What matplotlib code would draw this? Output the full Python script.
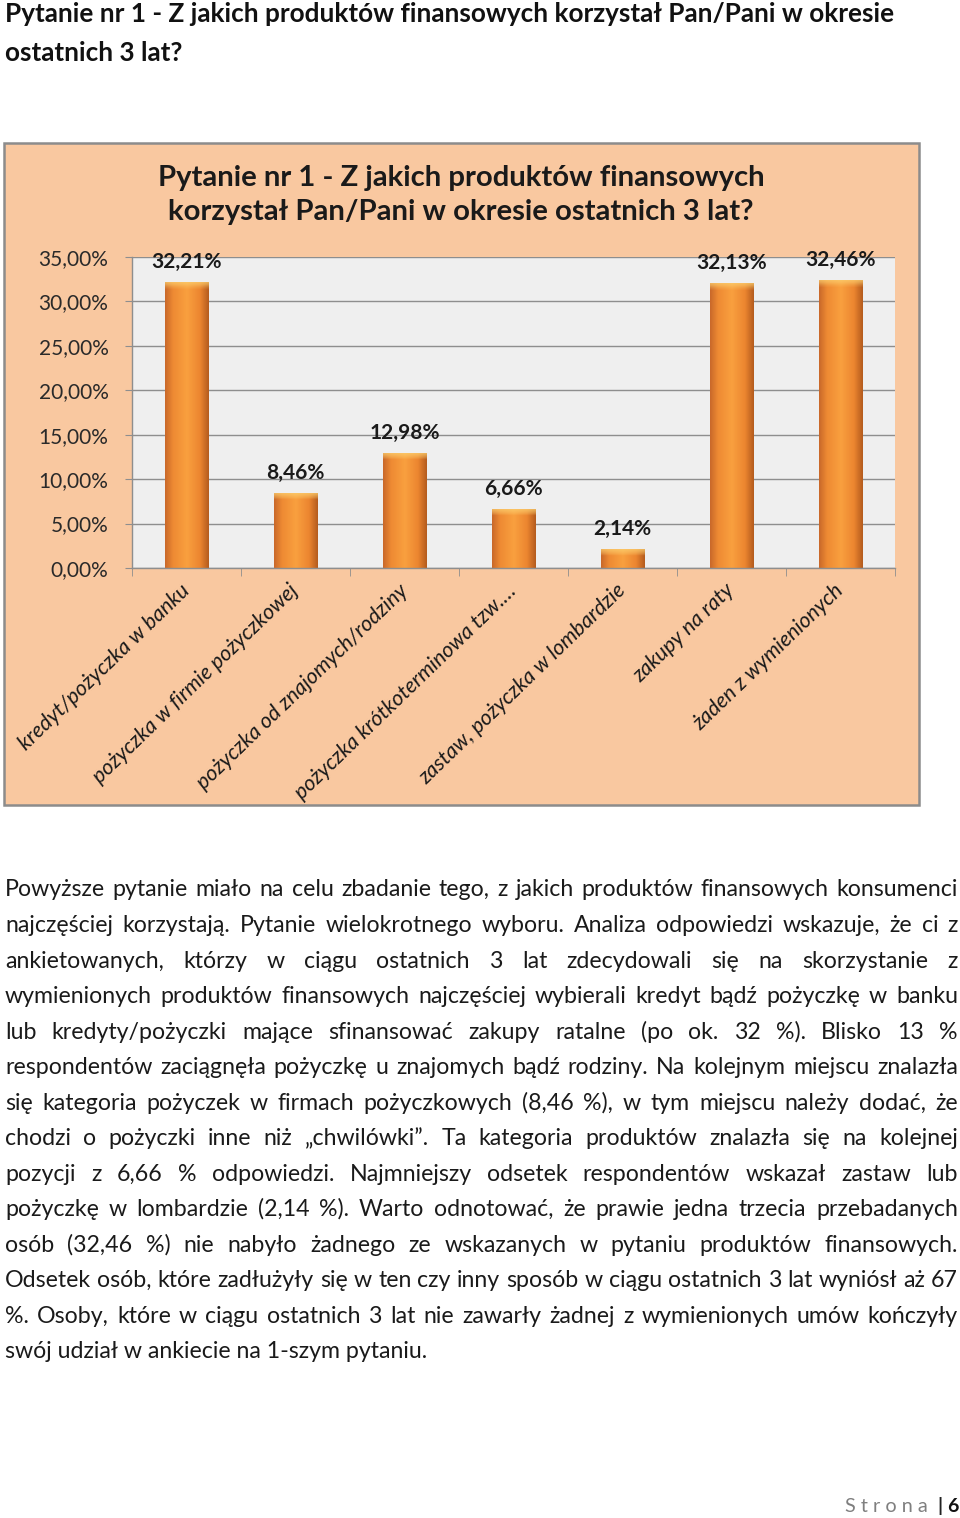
import numpy as np
import matplotlib
matplotlib.use('Agg')
import matplotlib.pyplot as plt
from matplotlib.patches import Rectangle
from matplotlib.colors import to_rgb

# ---------------- data ----------------
categories = [
    "kredyt/pożyczka w banku",
    "pożyczka w firmie pożyczkowej",
    "pożyczka od znajomych/rodziny",
    "pożyczka krótkoterminowa tzw.…",
    "zastaw, pożyczka w lombardzie",
    "zakupy na raty",
    "żaden z wymienionych",
]
values = [32.21, 8.46, 12.98, 6.66, 2.14, 32.13, 32.46]
yticks = [0, 5, 10, 15, 20, 25, 30, 35]
ytick_labels = ["0,00%", "5,00%", "10,00%", "15,00%", "20,00%", "25,00%", "30,00%", "35,00%"]
value_labels = ["32,21%", "8,46%", "12,98%", "6,66%", "2,14%", "32,13%", "32,46%"]

heading_lines = [
    "Pytanie nr 1 - Z jakich produktów finansowych korzystał Pan/Pani w okresie",
    "ostatnich 3 lat?",
]
chart_title_lines = [
    "Pytanie nr 1 - Z jakich produktów finansowych",
    "korzystał Pan/Pani w okresie ostatnich 3 lat?",
]
paragraph_lines = [
    "Powyższe pytanie miało na celu zbadanie tego, z jakich produktów finansowych konsumenci",
    "najczęściej korzystają. Pytanie wielokrotnego wyboru. Analiza odpowiedzi wskazuje, że ci z",
    "ankietowanych, którzy w ciągu ostatnich 3 lat zdecydowali się na skorzystanie z",
    "wymienionych produktów finansowych najczęściej wybierali kredyt bądź pożyczkę w banku",
    "lub kredyty/pożyczki mające sfinansować zakupy ratalne (po ok. 32 %). Blisko 13 %",
    "respondentów zaciągnęła pożyczkę u znajomych bądź rodziny. Na kolejnym miejscu znalazła",
    "się kategoria pożyczek w firmach pożyczkowych (8,46 %), w tym miejscu należy dodać, że",
    "chodzi o pożyczki inne niż „chwilówki”. Ta kategoria produktów znalazła się na kolejnej",
    "pozycji z 6,66 % odpowiedzi. Najmniejszy odsetek respondentów wskazał zastaw lub",
    "pożyczkę w lombardzie (2,14 %). Warto odnotować, że prawie jedna trzecia przebadanych",
    "osób (32,46 %) nie nabyło żadnego ze wskazanych w pytaniu produktów finansowych.",
    "Odsetek osób, które zadłużyły się w ten czy inny sposób w ciągu ostatnich 3 lat wyniósł aż 67",
    "%. Osoby, które w ciągu ostatnich 3 lat nie zawarły żadnej z wymienionych umów kończyły",
    "swój udział w ankiecie na 1-szym pytaniu.",
]
footer_word = "S t r o n a"
footer_page = "6"

# ---------------- figure ----------------
plt.rcParams['font.family'] = ['Lato', 'DejaVu Sans']
W, H = 960, 1518
fig = plt.figure(figsize=(W / 100, H / 100), dpi=100)
fig.patch.set_facecolor('white')
renderer = fig.canvas.get_renderer()


def fx(x):
    return x / W


def fy(y):
    return 1 - y / H


def fit(t, width_px):
    w = t.get_window_extent(renderer).width
    t.set_fontsize(t.get_fontsize() * width_px / w)


# page heading
t = fig.text(fx(5), fy(22), heading_lines[0], fontweight='bold', fontsize=18,
             ha='left', va='baseline', color='#111111')
fit(t, 892)
hs = t.get_fontsize()
fig.text(fx(5), fy(61), heading_lines[1], fontweight='bold', fontsize=hs,
         ha='left', va='baseline', color='#111111')

# chart box
box = Rectangle((fx(4), fy(805)), 915 / W, 662 / H, transform=fig.transFigure,
                facecolor='#F9C8A0', edgecolor='#8C8C8C', lw=1.8, zorder=0)
fig.add_artist(box)

# chart title
t1 = fig.text(fx(461), fy(178), chart_title_lines[0], fontweight='bold', fontsize=18,
              ha='center', va='center', color='#1a1a1a', zorder=2)
fit(t1, 609)
fig.text(fx(461), fy(212), chart_title_lines[1], fontweight='bold', fontsize=t1.get_fontsize(),
         ha='center', va='center', color='#1a1a1a', zorder=2)

# axes
ax = fig.add_axes([fx(132), fy(568), (895 - 132) / W, (568 - 257) / H], zorder=1)
ax.set_facecolor('#EFEFEF')
x = np.arange(len(categories))
bars = ax.bar(x, values, width=0.40, color='#F39237', edgecolor='#B8621F',
              linewidth=0.6, zorder=2)
ax.set_xlim(-0.5, len(categories) - 0.5)
ax.set_ylim(0, 35)
ax.set_yticks(yticks, labels=ytick_labels)
ax.yaxis.grid(True, color='#8E8E8E', linewidth=1.0)
ax.set_axisbelow(True)
for s in ['top', 'right']:
    ax.spines[s].set_visible(False)
for s in ['left', 'bottom']:
    ax.spines[s].set_color('#8E8E8E')
    ax.spines[s].set_linewidth(1.0)
ax.tick_params(axis='y', length=5, color='#8E8E8E', pad=12, labelsize=15,
               labelcolor='#2a2a2a')
ax.set_xticks(x, labels=categories)
ax.set_xticks(np.arange(-0.5, len(categories)), minor=True)
ax.tick_params(axis='x', which='major', length=0, pad=14, labelsize=15.5, labelcolor='#1a1a1a')
ax.tick_params(axis='x', which='minor', length=6, color='#8E8E8E')
for lab in ax.get_xticklabels():
    lab.set_rotation(44)
    lab.set_ha('right')
    lab.set_va('center')
    lab.set_rotation_mode('anchor')
    lab.set_fontstyle('italic')

# gradient fill for bars (3D-ish look)
stops = [(0.0, '#C9692A'), (0.18, '#EE8A33'), (0.5, '#F9A03F'),
         (0.8, '#EC8630'), (1.0, '#B55C1E')]
ncols = 60
row = np.zeros((ncols, 3))
pos = np.array([s[0] for s in stops])
cols = np.array([to_rgb(s[1]) for s in stops])
tt = np.linspace(0, 1, ncols)
for c in range(3):
    row[:, c] = np.interp(tt, pos, cols[:, c])
yellow = np.array(to_rgb('#FCD070'))
data_per_px = 35 / ax.get_window_extent(renderer).height
for p in bars:
    h = p.get_height()
    nrows = 120
    img = np.tile(row, (nrows, 1, 1))
    bevel = 7 * data_per_px
    frac = min(bevel / h, 0.45)
    for i in range(nrows):
        yp = (i + 0.5) / nrows
        if yp < frac:
            wgt = 0.85 * (1 - yp / frac) ** 0.7
            img[i] = img[i] * (1 - wgt) + yellow * wgt
    im = ax.imshow(img, extent=[p.get_x(), p.get_x() + p.get_width(), 0, h],
                   origin='upper', aspect='auto', zorder=2.5, interpolation='bilinear')
    im.set_clip_path(p)
ax.set_xlim(-0.5, len(categories) - 0.5)
ax.set_ylim(0, 35)
ax.set_aspect('auto')

for p, lab in zip(bars, value_labels):
    ax.annotate(lab, (p.get_x() + p.get_width() / 2, p.get_height()),
                xytext=(0, 7), textcoords='offset points', ha='center', va='bottom',
                fontweight='bold', fontsize=15, color='#1a1a1a', zorder=4)

# paragraph (justified)
line_centers = [889, 925, 961, 996, 1032, 1067, 1103, 1138, 1174, 1209, 1245, 1280, 1316, 1351]
left, right = 5, 958
base_off = 7
last = fig.text(fx(left), fy(line_centers[-1] + base_off), paragraph_lines[-1], fontsize=16,
                ha='left', va='baseline', color='#1a1a1a')
fit(last, 425)
pfs = last.get_fontsize()
for line, yc in zip(paragraph_lines[:-1], line_centers[:-1]):
    words = line.split()
    texts = [fig.text(0, fy(yc + base_off), w_, fontsize=pfs, ha='left', va='baseline',
                      color='#1a1a1a') for w_ in words]
    widths = [tx.get_window_extent(renderer).width for tx in texts]
    gap = (right - left - sum(widths)) / max(len(words) - 1, 1)
    xpos = left
    for tx, wd in zip(texts, widths):
        tx.set_x(fx(xpos))
        xpos += wd + gap

# footer
ft = fig.text(fx(928), fy(1512), footer_word, fontsize=13.5, ha='right', va='baseline',
              color='#7F7F7F')
fit(ft, 83)
fig.text(fx(940), fy(1512), "|", fontsize=14, ha='center', va='baseline', color='#222222',
         fontweight='bold')
fig.text(fx(958), fy(1512), footer_page, fontsize=14, ha='right', va='baseline', color='#111111',
         fontweight='bold')

fig.savefig('out.png', dpi=100, facecolor='white')
